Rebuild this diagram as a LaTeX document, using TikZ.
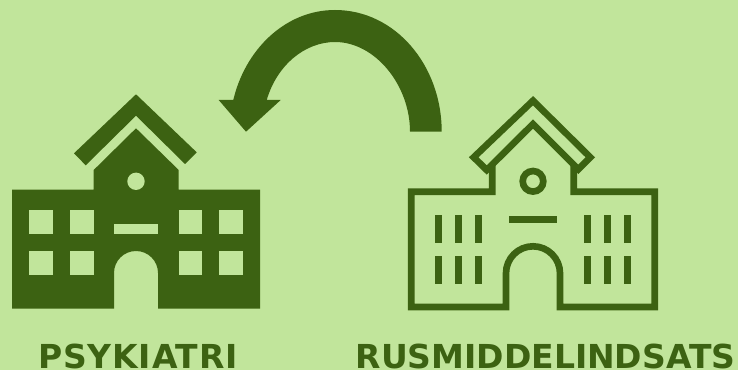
\documentclass[tikz,border=0pt]{standalone}
\usepackage{fontspec}
\setmainfont{DejaVu Sans}
\definecolor{bgc}{HTML}{C1E59B}
\definecolor{dk}{HTML}{3C6212}
\tikzset{
  solid part/.style={fill=dk,draw=none},
  hole/.style={fill=bgc,draw=none},
  outline/.style={draw=dk,line width=5pt,line join=miter,fill=none},
  tick/.style={fill=dk,draw=none},
  caption/.style={text=dk,font=\bfseries\fontsize{24.75}{28}\selectfont,inner sep=0pt,anchor=base}
}
\begin{document}
\begin{tikzpicture}[x=0.75pt,y=-0.75pt]
\useasboundingbox (0,0) rectangle (738,370);
\fill[bgc] (0,0) rectangle (738,370);
% curved arrow
\fill[solid part] (441.7,131.7) .. controls (441.7,65) and (395,10) .. (335,10)
  .. controls (285,10) and (245,50) .. (233.3,100) -- (218.7,100) -- (246,131.7) -- (280.7,100) -- (266.7,100)
  .. controls (277,65) and (305,42) .. (335,42)
  .. controls (375,42) and (410,85) .. (410,131.7) -- cycle;
% left building
\fill[solid part] (136,94.3) -- (196.7,152.3) -- (185,164) -- (136,115.7) -- (85.7,165.3) -- (74,153.3) -- cycle;
\fill[solid part] (136,128.3) -- (178.7,170) -- (178.7,189.7) -- (260,189.7) -- (260,308.7) -- (158,308.7) -- (158,273)
  arc[start angle=0,end angle=-180,radius=22] -- (114,308.7) -- (12,308.7) -- (12,189.7) -- (93.7,189.7) -- (93.7,170) -- cycle;
\fill[hole] (136,181.3) circle[radius=8.7];
\foreach \xa/\xb in {29/52.7,69.7/93.7,178.7/202.3,219.3/243.3}{
  \fill[hole] (\xa,210.3) rectangle (\xb,234);
  \fill[hole] (\xa,251) rectangle (\xb,274.7);
}
\fill[hole] (114,224) rectangle (158,234);
% right building
\draw[outline] (473.7,157.3) -- (533,100.7) -- (590.3,157.3) -- (578.3,169.3) -- (533,124) -- (486.7,170) -- cycle;
\draw[outline] (492.3,165) -- (492.3,191.7) -- (411.3,191.7) -- (411.3,307) -- (506,307) -- (506,273.3)
  arc[start angle=-180,end angle=0,radius=27] -- (560,307) -- (654.7,307) -- (654.7,191.7) -- (573.7,191.7) -- (573.7,165);
\draw[outline] (533,181.3) circle[radius=10.3];
\fill[tick] (509,216) rectangle (557,222.7);
\foreach \xa in {435,455,475,584,604,624}{
  \fill[tick] (\xa,215) rectangle (\xa+7,243);
  \fill[tick] (\xa,256) rectangle (\xa+7,284);
}
% captions
\node[caption] (psy) at (138,368) {\addfontfeature{LetterSpace=2.6}PSYKIATRI};
\node[caption] (rus) at (545.5,368) {RUSMIDDELINDSATS};
\end{tikzpicture}
\end{document}
